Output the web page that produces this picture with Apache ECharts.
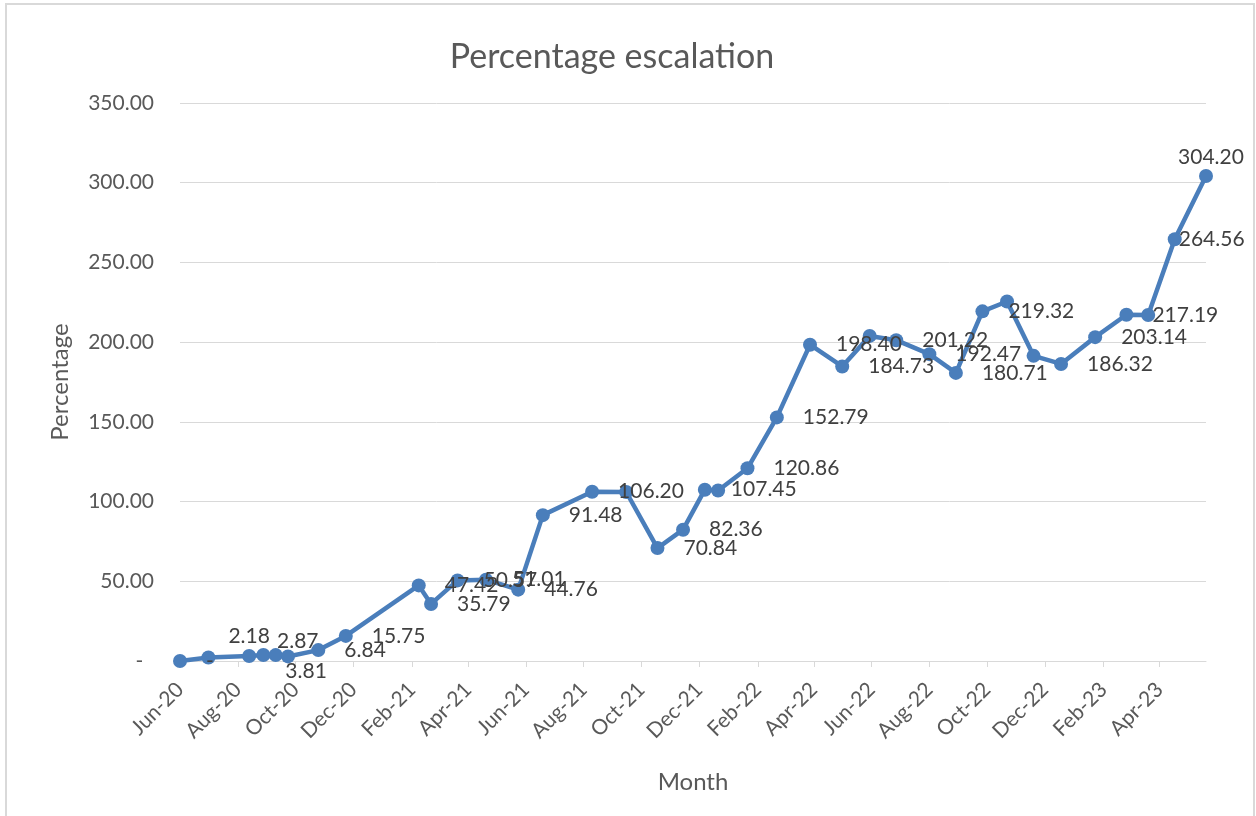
<!DOCTYPE html>
<html>
<head>
<meta charset="utf-8">
<script src="https://cdn.jsdelivr.net/npm/echarts@6/dist/echarts.min.js"></script>
<style>
html,body{margin:0;padding:0;background:#fff;}
#chart{width:1256px;height:816px;}
</style>
</head>
<body>
<div id="chart"></div>
<script>
// ---- data ----
const dates = ['2020-06-01','2020-07-01','2020-08-13','2020-08-28','2020-09-10','2020-09-23','2020-10-25','2020-11-23',
  '2021-02-08','2021-02-21','2021-03-21','2021-04-20','2021-05-24','2021-06-19','2021-08-10','2021-09-15','2021-10-18',
  '2021-11-14','2021-12-07','2021-12-21','2022-01-21','2022-02-21','2022-03-28','2022-05-01','2022-05-30','2022-06-27',
  '2022-08-01','2022-08-29','2022-09-26','2022-10-22','2022-11-19','2022-12-18','2023-01-23','2023-02-25','2023-03-20',
  '2023-04-17','2023-05-20'];
const percentages = [0, 2.18, 3.10, 3.81, 3.70, 2.87, 6.84, 15.75, 47.42, 35.79, 50.57, 51.01, 44.76, 91.48, 106.20,
  106.00, 70.84, 82.36, 107.45, 106.90, 120.86, 152.79, 198.40, 184.73, 203.90, 201.22, 192.47, 180.71, 219.32,
  225.50, 191.40, 186.32, 203.14, 217.19, 217.00, 264.56, 304.20];
const tickMonths = ['2020-06-01','2020-08-01','2020-10-01','2020-12-01','2021-02-01','2021-04-01','2021-06-01',
  '2021-08-01','2021-10-01','2021-12-01','2022-02-01','2022-04-01','2022-06-01','2022-08-01','2022-10-01',
  '2022-12-01','2023-02-01','2023-04-01'];
const yTicks = [0, 50, 100, 150, 200, 250, 300, 350];
const monthNames = ['Jan','Feb','Mar','Apr','May','Jun','Jul','Aug','Sep','Oct','Nov','Dec'];

// ---- label styling (not data) ----
const hiddenLabels = [2, 4, 15, 19, 24, 29, 30, 34];
const labelOverrides = {
  1: { offset: [-6, -21] },
  3: { offset: [-4, 16] },
  5: { offset: [-37, -15] },
  35: { offset: [-22, 0] },
  36: { position: 'top', distance: 1, offset: [5, 0] }
};

const ts = s => new Date(s + 'T00:00:00Z').getTime();
const fmtDate = v => { const d = new Date(v); return monthNames[d.getUTCMonth()] + '-' + String(d.getUTCFullYear()).slice(2); };
const fmtNum = v => v === 0 ? '-' : v.toFixed(2);

const FONT = 'Lato, "Open Sans", sans-serif';
const seriesData = dates.map((d, i) => {
  const item = { value: [ts(d), percentages[i]] };
  if (hiddenLabels.includes(i)) item.label = { show: false };
  else if (labelOverrides[i]) item.label = labelOverrides[i];
  return item;
});

const chart = echarts.init(document.getElementById('chart'), null, { renderer: 'canvas' });
chart.setOption({
  animation: false,
  backgroundColor: '#fff',
  graphic: [
    { type: 'rect', shape: { x: 6, y: 4, width: 1248, height: 830 }, style: { fill: 'none', stroke: '#D9D9D9', lineWidth: 2 }, silent: true },
    { type: 'text', x: 612, y: 57, style: { text: 'Percentage escalation', fill: '#595959', font: '34px ' + FONT, textAlign: 'center', textVerticalAlign: 'middle' } }
  ],
  grid: { left: 180, right: 50, top: 103, bottom: 155 },
  xAxis: {
    type: 'value',
    min: 'dataMin', max: 'dataMax',
    name: 'Month', nameLocation: 'middle', nameGap: 109,
    nameTextStyle: { color: '#595959', fontSize: 24, fontFamily: FONT },
    axisLine: { show: true, lineStyle: { color: '#D9D9D9', width: 1 } },
    axisTick: { show: true, length: 6, lineStyle: { color: '#D9D9D9' }, customValues: tickMonths.map(ts) },
    axisLabel: { show: true, rotate: 45, margin: 25, color: '#595959', fontSize: 21, fontFamily: FONT,
      customValues: tickMonths.map(ts), formatter: fmtDate },
    splitLine: { show: false }
  },
  yAxis: {
    type: 'value', min: 0, max: 350, interval: 50,
    name: 'Percentage', nameLocation: 'middle', nameGap: 108,
    nameTextStyle: { color: '#595959', fontSize: 24, fontFamily: FONT },
    axisLine: { show: false }, axisTick: { show: false },
    axisLabel: { margin: 26, color: '#595959', fontSize: 21, fontFamily: FONT,
      formatter: v => yTicks.includes(v) ? (v === 0 ? '-  ' : v.toFixed(2)) : '' },
    splitLine: { lineStyle: { color: '#D9D9D9', width: 1 } }
  },
  series: [{
    type: 'line',
    data: seriesData,
    symbol: 'circle', symbolSize: 14,
    lineStyle: { color: '#4A7EBB', width: 4.5 },
    itemStyle: { color: '#4A7EBB' },
    label: { show: true, position: 'right', distance: 19, color: '#404040', fontSize: 21, fontFamily: FONT,
      formatter: p => fmtNum(p.value[1]) },
    emphasis: { disabled: true }
  }]
});
</script>
</body>
</html>
